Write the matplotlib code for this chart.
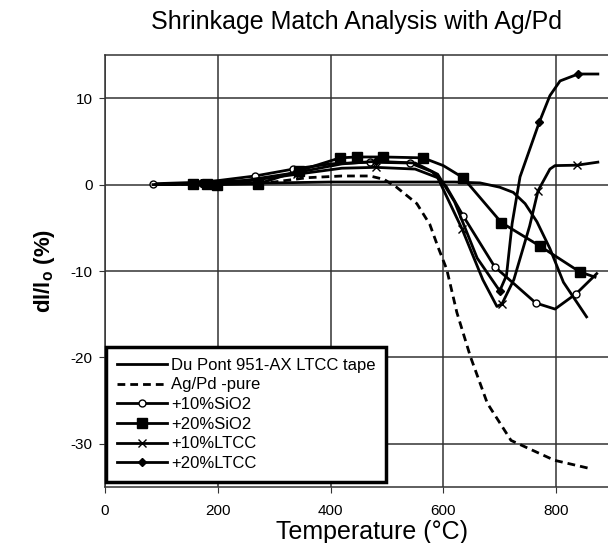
import matplotlib
matplotlib.use("Agg")
import matplotlib.pyplot as plt

plt.rcParams['font.family'] = ['Liberation Sans', 'DejaVu Sans']
plt.rcParams['axes.unicode_minus'] = False

# values (temperature in C, dl/l0 in %)
dupont_x = [90, 200, 300, 400, 500, 580, 620, 665, 700, 724, 745, 766, 789, 813, 854]
dupont_y = [0.0, 0.1, 0.2, 0.3, 0.3, 0.3, 0.3, 0.2, -0.3, -0.9, -2.2, -4.3, -7.4, -11.3, -15.3]

agpd_x = [90, 200, 300, 358, 420, 470, 495, 517, 553, 576, 591, 606, 624, 648, 678, 720, 797, 863]
agpd_y = [0.0, 0.1, 0.3, 0.8, 1.0, 1.0, 0.6, -0.3, -2.2, -4.6, -7.3, -9.8, -14.8, -19.9, -25.3, -29.6, -31.9, -32.9]

sio2_10_x = [85, 180, 266, 334, 400, 470, 541, 580, 605, 635, 691, 764, 798, 836, 872]
sio2_10_y = [0.1, 0.3, 1.0, 1.8, 2.4, 2.6, 2.5, 1.5, -0.2, -3.6, -9.5, -13.7, -14.4, -12.6, -10.3]

sio2_20_x = [85, 156, 181, 198, 272, 344, 417, 447, 493, 564, 600, 635, 703, 771, 842, 869]
sio2_20_y = [0.0, 0.1, 0.1, 0.0, 0.1, 1.6, 3.1, 3.2, 3.2, 3.1, 2.2, 0.8, -4.4, -7.1, -10.1, -10.7]

ltcc_10_x = [90, 170, 250, 340, 420, 480, 550, 590, 633, 670, 695, 704, 725, 753, 768, 789, 798, 837, 874]
ltcc_10_y = [0.0, 0.2, 0.4, 1.2, 1.9, 2.0, 1.8, 0.8, -5.1, -11.0, -14.1, -13.8, -11.0, -4.8, -0.7, 1.8, 2.2, 2.25, 2.6]

ltcc_20_x = [90, 170, 250, 340, 420, 480, 550, 590, 620, 660, 700, 712, 722, 736, 770, 789, 807, 839, 874]
ltcc_20_y = [0.0, 0.2, 0.5, 1.4, 2.4, 2.7, 2.5, 1.2, -2.0, -8.5, -12.3, -10.5, -4.5, 0.9, 7.2, 10.3, 12.0, 12.8, 12.8]

fig = plt.figure(figsize=(6.08, 5.43), dpi=100)
ax = fig.add_axes([0.1727, 0.103, 0.8273, 0.7957])

lw = 2.0
ax.plot(dupont_x, dupont_y, color='black', lw=lw, label='Du Pont 951-AX LTCC tape')
ax.plot(agpd_x, agpd_y, color='black', lw=lw, ls=(0, (2.8, 1.8)), label='Ag/Pd -pure')
ax.plot(sio2_10_x, sio2_10_y, color='black', lw=lw, marker='o', ms=5, mfc='white', mew=1.0,
        markevery=[0, 2, 3, 5, 6, 9, 10, 11, 13], label='+10%SiO2')
ax.plot(sio2_20_x, sio2_20_y, color='black', lw=lw, marker='s', ms=7,
        markevery=[1, 2, 3, 4, 5, 6, 7, 8, 9, 11, 12, 13, 14], label='+20%SiO2')
ax.plot(ltcc_10_x, ltcc_10_y, color='black', lw=lw, marker='x', ms=6, mew=1.0,
        markevery=[1, 3, 5, 8, 11, 14, 17], label='+10%LTCC')
ax.plot(ltcc_20_x, ltcc_20_y, color='black', lw=lw, marker='D', ms=4.5,
        markevery=[1, 3, 5, 10, 14, 17], label='+20%LTCC')

ax.set_xlim(0, 892)
ax.set_ylim(-35, 15)
ax.set_xticks([0, 200, 400, 600, 800])
ax.set_yticks([-30, -20, -10, 0, 10])
ax.grid(True, color='#333333', lw=1.1)
ax.set_axisbelow(True)
for s in ['left', 'bottom', 'top']:
    ax.spines[s].set_color('#333333')
    ax.spines[s].set_linewidth(1.1)
ax.spines['right'].set_visible(False)
ax.tick_params(axis='y', labelsize=11, length=4, color='#333333', pad=5)
ax.tick_params(axis='x', labelsize=11, length=4, color='#333333', pad=8)

ax.set_xlabel('Temperature (°C)', fontsize=18)
ax.xaxis.set_label_coords(0.53, -0.077)
ax.set_ylabel('dl/l$_\\mathregular{o}$ (%)', fontsize=16, fontweight='bold', labelpad=10)
ax.set_title('Shrinkage Match Analysis with Ag/Pd', fontsize=18, pad=19)

leg = ax.legend(loc='lower left', bbox_to_anchor=(0.002, 0.012), borderaxespad=0,
                fontsize=12, handlelength=3.0, handletextpad=0.25, labelspacing=0.28,
                fancybox=False, framealpha=1, borderpad=0.65)
leg.get_frame().set_edgecolor('black')
leg.get_frame().set_linewidth(2.5)

fig.savefig('out.png', dpi=100)
